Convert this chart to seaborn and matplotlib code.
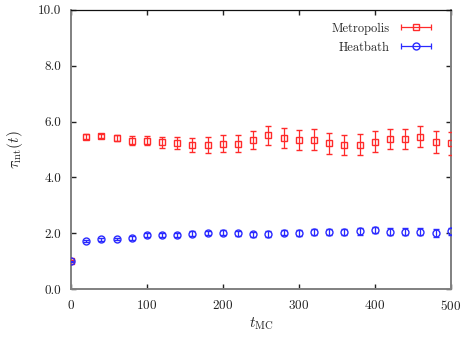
import matplotlib
matplotlib.use("Agg")
import matplotlib.pyplot as plt
import seaborn as sns
from matplotlib.lines import Line2D
from matplotlib.legend_handler import HandlerTuple, HandlerLine2D

t_mc = [0, 20, 40, 60, 80, 100, 120, 140, 160, 180, 200, 220, 240, 260,
        280, 300, 320, 340, 360, 380, 400, 420, 440, 460, 480, 500]

metro = [1.0, 5.46, 5.49, 5.40, 5.31, 5.31, 5.25, 5.23, 5.16, 5.17, 5.21, 5.21,
         5.33, 5.50, 5.40, 5.33, 5.35, 5.22, 5.16, 5.17, 5.28, 5.38, 5.38,
         5.46, 5.28, 5.22]
metro_err = [0.03, 0.08, 0.08, 0.11, 0.16, 0.16, 0.20, 0.23, 0.26, 0.28, 0.30,
             0.31, 0.33, 0.35, 0.36, 0.35, 0.38, 0.37, 0.36, 0.38, 0.37, 0.36,
             0.36, 0.38, 0.39, 0.41]

heat = [1.0, 1.71, 1.78, 1.79, 1.83, 1.93, 1.93, 1.95, 1.98, 2.01, 2.01, 2.00,
        1.96, 1.98, 2.02, 2.00, 2.05, 2.05, 2.05, 2.06, 2.11, 2.05, 2.05, 2.05,
        2.01, 2.07]
heat_err = [0.02, 0.04, 0.05, 0.05, 0.06, 0.06, 0.07, 0.07, 0.08, 0.08, 0.09,
            0.09, 0.09, 0.10, 0.10, 0.10, 0.10, 0.11, 0.11, 0.11, 0.12, 0.12,
            0.12, 0.12, 0.13, 0.13]

sns.set_style("ticks")
plt.rcParams['font.family'] = ['cmr10', 'DejaVu Serif']
plt.rcParams['mathtext.fontset'] = 'cm'
plt.rcParams['axes.formatter.use_mathtext'] = True

fig = plt.figure(figsize=(4.73, 3.40), dpi=100)
ax = fig.add_axes([0.150, 0.150, 0.803, 0.821])

red = '#ff2a2a'
blue = '#2a2aff'
ax.errorbar(t_mc, metro, yerr=metro_err, fmt='s', ms=5, mfc='none', mec=red,
            mew=1.0, ecolor=red, elinewidth=0.9, capsize=2, capthick=0.9,
            zorder=3)
ax.errorbar(t_mc, heat, yerr=heat_err, fmt='o', ms=5, mfc='none', mec=blue,
            mew=1.0, ecolor=blue, elinewidth=0.9, capsize=2, capthick=0.9,
            zorder=3)

ax.set_xlim(0, 500)
ax.set_ylim(0, 10)
ax.set_xticks([0, 100, 200, 300, 400, 500])
ax.set_yticks([0, 2, 4, 6, 8, 10])
ax.set_yticklabels(['0.0', '2.0', '4.0', '6.0', '8.0', '10.0'])
ax.tick_params(direction='in', top=True, right=True, length=3.5, width=1,
               labelsize=9.5, colors='#222222', pad=7)
for s in ax.spines.values():
    s.set_color('#808080')
    s.set_linewidth(1.4)
ax.spines['top'].set_color('#111111')
ax.spines['top'].set_linewidth(0.9)

ax.set_xlabel(r'$t_{\rm MC}$', fontsize=11, labelpad=2)
ax.set_ylabel(r'$\tau_{\rm int}(t)$', fontsize=11, labelpad=9)

# gnuplot-like legend keys: horizontal bar with end caps and marker
handles = []
hmap = {tuple: HandlerTuple(ndivide=1)}
for c, m in [(red, 's'), (blue, 'o')]:
    body = Line2D([], [], color=c, lw=0.9, marker=m, ms=5, mfc='none',
                  mec=c, mew=1.0)
    caps = Line2D([], [], ls='none', marker='|', ms=5, mec=c, mew=0.9)
    hmap[caps] = HandlerLine2D(numpoints=2, marker_pad=0)
    handles.append((body, caps))

ax.legend(handles, ['Metropolis', 'Heatbath'], handler_map=hmap,
          loc='upper right', bbox_to_anchor=(0.947, 0.955), frameon=False,
          markerfirst=False, fontsize=9, handlelength=2.4, handletextpad=0.9,
          borderaxespad=0, borderpad=0, labelspacing=0.55)

fig.savefig('out.png', dpi=100)
